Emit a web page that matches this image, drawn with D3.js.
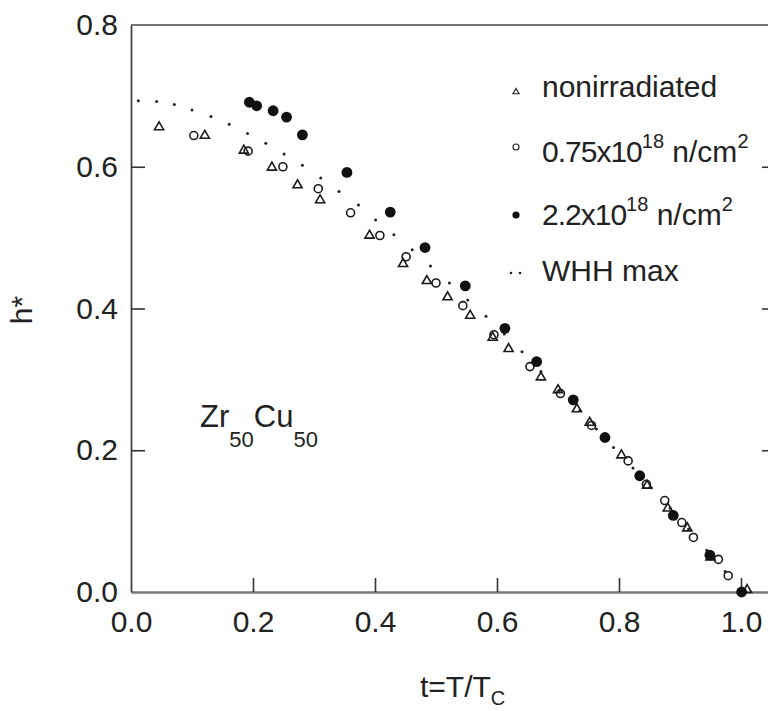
<!DOCTYPE html>
<html>
<head>
<meta charset="utf-8">
<script src="https://cdn.jsdelivr.net/npm/d3@7"></script>
<style>
  body { margin: 0; background: #fff; }
  svg text { font-family: "Liberation Sans", Arial, Helvetica, sans-serif; fill: #222; }
</style>
</head>
<body>
<div id="chart"></div>
<script>
// data: [t, h*]
var nonirradiated = [
    [0.046, 0.656], [0.121, 0.644], [0.185, 0.623], [0.231, 0.599], [0.273, 0.574],
    [0.310, 0.553], [0.391, 0.503], [0.446, 0.463], [0.485, 0.439], [0.519, 0.416],
    [0.556, 0.390], [0.593, 0.359], [0.619, 0.343], [0.672, 0.303], [0.700, 0.285],
    [0.731, 0.258], [0.752, 0.239], [0.804, 0.193], [0.846, 0.150], [0.880, 0.118],
    [0.912, 0.090], [0.950, 0.049], [1.010, 0.003]
];
var dose075 = [
    [0.103, 0.644], [0.192, 0.622], [0.249, 0.600], [0.307, 0.569], [0.360, 0.535],
    [0.408, 0.503], [0.451, 0.473], [0.500, 0.436], [0.544, 0.404], [0.595, 0.363],
    [0.654, 0.318], [0.704, 0.280], [0.755, 0.235], [0.815, 0.185], [0.845, 0.152],
    [0.875, 0.129], [0.903, 0.098], [0.922, 0.077], [0.963, 0.046], [0.979, 0.023]
];
var dose22 = [
    [0.194, 0.691], [0.206, 0.686], [0.233, 0.679], [0.255, 0.670], [0.281, 0.645],
    [0.354, 0.592], [0.425, 0.536], [0.482, 0.486], [0.548, 0.432], [0.613, 0.372],
    [0.665, 0.325], [0.725, 0.271], [0.777, 0.218], [0.834, 0.164], [0.889, 0.108],
    [0.949, 0.052], [1.001, 0.000]
];
var whhMax = [
    [0.012, 0.693], [0.042, 0.692], [0.071, 0.688], [0.100, 0.680], [0.131, 0.671],
    [0.161, 0.660], [0.191, 0.647], [0.221, 0.633], [0.251, 0.618], [0.281, 0.602],
    [0.311, 0.584], [0.341, 0.565], [0.373, 0.546], [0.401, 0.525], [0.431, 0.504],
    [0.461, 0.483], [0.491, 0.460], [0.522, 0.436], [0.552, 0.412], [0.582, 0.389],
    [0.612, 0.364], [0.641, 0.339], [0.672, 0.311], [0.702, 0.284], [0.736, 0.256],
    [0.763, 0.230], [0.791, 0.204], [0.823, 0.175], [0.853, 0.147], [0.884, 0.118],
    [0.914, 0.089], [0.944, 0.059], [0.974, 0.029]
];
var xTicks = [0, 0.2, 0.4, 0.6, 0.8, 1.0];
var yTicks = [0, 0.2, 0.4, 0.6, 0.8];

var svgWidth = 768;
var svgHeight = 711;
var margin = { top: 25, right: -4, bottom: 119, left: 131 };
var chart_width = svgWidth - margin.left - margin.right;
var chart_height = svgHeight - margin.top - margin.bottom;

var svg = d3.select("#chart")
    .append("svg")
    .attr("width", svgWidth)
    .attr("height", svgHeight);

var chartGroup = svg.append("g")
    .attr("transform", `translate(${margin.left}, ${margin.top})`);

// t = 1.0 sits at 610px, the frame runs a bit past it (clipped at the right edge)
var xScale = d3.scaleLinear()
    .domain([0, chart_width / 610])
    .range([0, chart_width]);

var yScale = d3.scaleLinear()
    .domain([0, 0.8])
    .range([chart_height, 0]);

var fmt = d3.format(".1f");

// axes, ticks pointing inward
var bottomAxis = d3.axisBottom(xScale).tickValues(xTicks).tickFormat(fmt)
    .tickSizeInner(-14).tickSizeOuter(0).tickPadding(19);
var leftAxis = d3.axisLeft(yScale).tickValues(yTicks).tickFormat(fmt)
    .tickSizeInner(-14).tickSizeOuter(0).tickPadding(13);
var rightAxis = d3.axisRight(yScale).tickValues(yTicks).tickFormat("")
    .tickSizeInner(-10).tickSizeOuter(0);

var gx = chartGroup.append("g")
    .attr("transform", `translate(0, ${chart_height})`)
    .call(bottomAxis);
var gy = chartGroup.append("g").call(leftAxis);
var gr = chartGroup.append("g")
    .attr("transform", `translate(${chart_width}, 0)`)
    .call(rightAxis);

chartGroup.append("line")
    .attr("x1", 0).attr("x2", chart_width)
    .attr("y1", 0).attr("y2", 0)
    .attr("stroke", "#444").attr("stroke-width", 1.6);

[gx, gy, gr].forEach(function(g) {
    g.select(".domain").attr("stroke", "#444").attr("stroke-width", 1.8);
    g.selectAll(".tick line").attr("stroke", "#333").attr("stroke-width", 1.6);
    g.selectAll(".tick text").attr("font-size", 30).attr("fill", "#222")
        .attr("font-family", "'Liberation Sans', Arial, sans-serif");
});
gx.select(".domain").attr("stroke", "#777").attr("stroke-width", 2.6);
// hide corner ticks on the inside
gy.selectAll(".tick line").filter(d => d === 0 || d === 0.8).remove();
gr.selectAll(".tick line").filter(d => d === 0 || d === 0.8).remove();
gx.selectAll(".tick line").filter(d => d === 0).remove();

// WHH curve as small dots
chartGroup.append("g")
    .selectAll("circle")
    .data(whhMax)
    .enter()
    .append("circle")
    .attr("cx", d => xScale(d[0]))
    .attr("cy", d => yScale(d[1]))
    .attr("r", 1.5)
    .attr("fill", "#222");

// triangles
var tri = d3.symbol().type(d3.symbolTriangle).size(36);
chartGroup.append("g")
    .selectAll("path")
    .data(nonirradiated)
    .enter()
    .append("path")
    .attr("d", tri)
    .attr("transform", d => `translate(${xScale(d[0])}, ${yScale(d[1])})`)
    .attr("fill", "none")
    .attr("stroke", "#1a1a1a")
    .attr("stroke-width", 1.6);

// open circles
chartGroup.append("g")
    .selectAll("circle")
    .data(dose075)
    .enter()
    .append("circle")
    .attr("cx", d => xScale(d[0]))
    .attr("cy", d => yScale(d[1]))
    .attr("r", 4)
    .attr("fill", "none")
    .attr("stroke", "#1a1a1a")
    .attr("stroke-width", 1.6);

// filled circles
chartGroup.append("g")
    .selectAll("circle")
    .data(dose22)
    .enter()
    .append("circle")
    .attr("cx", d => xScale(d[0]))
    .attr("cy", d => yScale(d[1]))
    .attr("r", 5.4)
    .attr("fill", "#111");

// axis titles
svg.append("text")
    .attr("transform", "translate(32, 310) rotate(-90)")
    .attr("text-anchor", "middle")
    .attr("font-size", 30)
    .text("h*");

var xt = svg.append("text")
    .attr("x", 420).attr("y", 697)
    .attr("font-size", 30);
xt.append("tspan").text("t=T/T");
xt.append("tspan").attr("font-size", 20).attr("dy", 8).text("C");

// compound label
var lab = svg.append("text")
    .attr("x", 200).attr("y", 427)
    .attr("font-size", 31);
lab.append("tspan").text("Zr");
lab.append("tspan").attr("font-size", 22).attr("dy", 20).text("50");
lab.append("tspan").attr("dy", -20).text("Cu");
lab.append("tspan").attr("font-size", 22).attr("dy", 20).text("50");

// legend
var legend = svg.append("g");
legend.append("path")
    .attr("d", d3.symbol().type(d3.symbolTriangle).size(16))
    .attr("transform", "translate(516, 92)")
    .attr("fill", "none").attr("stroke", "#222").attr("stroke-width", 1.2);
legend.append("circle")
    .attr("cx", 516).attr("cy", 147).attr("r", 3)
    .attr("fill", "none").attr("stroke", "#222").attr("stroke-width", 1.2);
legend.append("circle")
    .attr("cx", 516).attr("cy", 215).attr("r", 3.6)
    .attr("fill", "#111");
legend.append("circle").attr("cx", 511).attr("cy", 273).attr("r", 1.3).attr("fill", "#222");
legend.append("circle").attr("cx", 520).attr("cy", 273).attr("r", 1.3).attr("fill", "#222");

legend.append("text").attr("x", 542).attr("y", 97).attr("font-size", 30).text("nonirradiated");

var l2 = legend.append("text").attr("x", 542).attr("y", 162).attr("font-size", 30);
l2.append("tspan").attr("letter-spacing", -1).text("0.75x10");
l2.append("tspan").attr("font-size", 20).attr("dy", -14).text("18");
l2.append("tspan").attr("dy", 14).text(" n/cm");
l2.append("tspan").attr("font-size", 20).attr("dy", -14).text("2");

var l3 = legend.append("text").attr("x", 542).attr("y", 225).attr("font-size", 30);
l3.append("tspan").attr("letter-spacing", -1).text("2.2x10");
l3.append("tspan").attr("font-size", 20).attr("dy", -14).text("18");
l3.append("tspan").attr("dy", 14).text(" n/cm");
l3.append("tspan").attr("font-size", 20).attr("dy", -14).text("2");

legend.append("text").attr("x", 542).attr("y", 281).attr("font-size", 30).text("WHH max");
</script>
</body>
</html>
